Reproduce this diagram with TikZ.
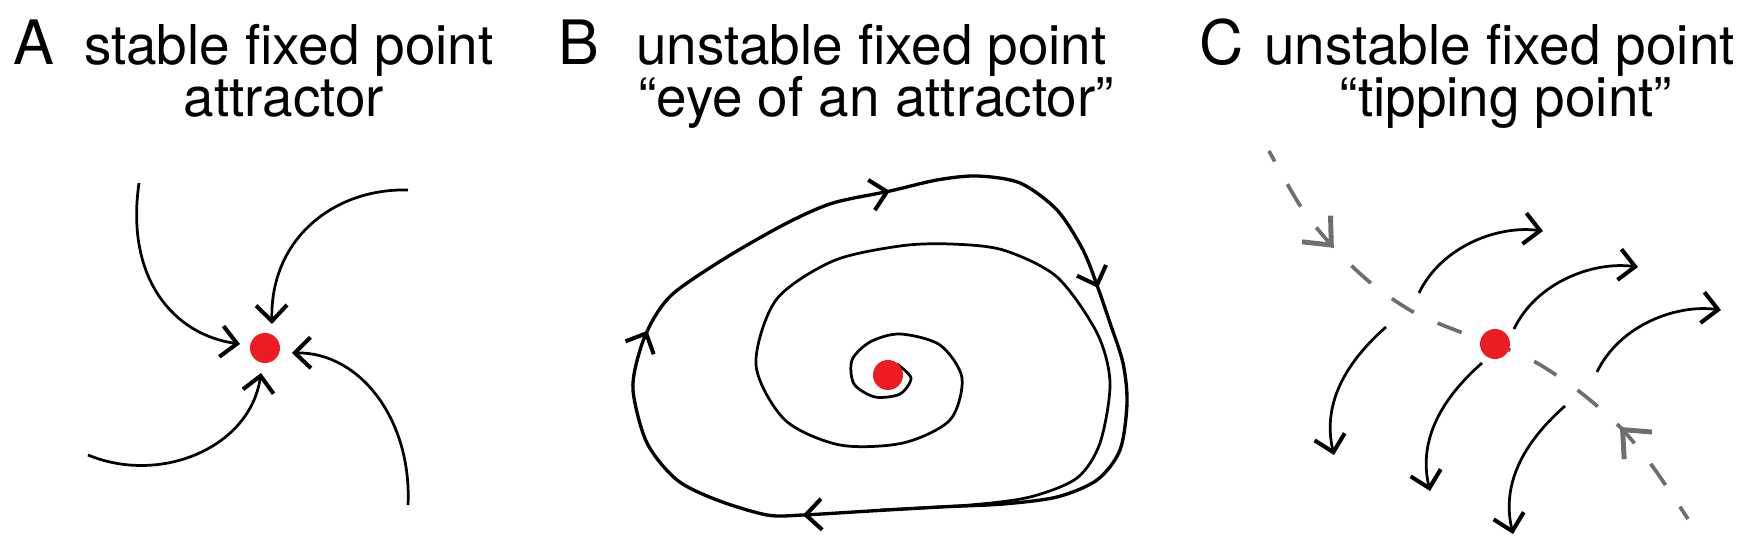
\documentclass[tikz,border=0pt]{standalone}
\usepackage{fontspec}
\setmainfont{TeX Gyre Heros}
\usetikzlibrary{arrows.meta,decorations.markings}
\definecolor{dotred}{RGB}{237,28,36}
\definecolor{sepgray}{RGB}{109,110,113}
\begin{document}
\begin{tikzpicture}[x=0.01cm,y=-0.01cm,
  title/.style={anchor=base west,inner sep=0pt,outer sep=0pt,font=\fontsize{15.6}{18}\selectfont},
  subtitle/.style={anchor=base,inner sep=0pt,outer sep=0pt,font=\fontsize{15.6}{18}\selectfont},
  panel/.style={anchor=base west,inner sep=0pt,outer sep=0pt,font=\fontsize{17.4}{20}\selectfont},
  fp/.style={circle,fill=dotred,draw=none,inner sep=0pt,minimum size=0.30cm},
  flow/.style={line width=0.78pt,black},
  cycleline/.style={line width=0.95pt,black},
  blk/.tip={Straight Barb[length=4.5pt,width=8.8pt,line width=1.15pt]},
  gry/.tip={Straight Barb[length=6.3pt,width=11pt,line width=1.4pt]},
  sepline/.style={line width=1.05pt,sepgray,dash pattern=on 7.4pt off 7.4pt,dash phase=4pt},
  uparc/.pic={\draw[flow,-{blk}] (0,0) .. controls (22,-46) and (78,-68) .. (124,-62);},
  downarc/.pic={\draw[flow,-{blk}] (0,0) .. controls (-50,44) and (-62,86) .. (-52,128);}
]
\useasboundingbox (0,0) rectangle (1763,555);

% ---------- titles ----------
\node[panel] (labA) at (13,65) {A};
\node[title] (titA1) at (84,65) {stable fixed point};
\node[subtitle] (titA2) at (284,117) {attractor};

\node[panel] (labB) at (558,65) {B};
\node[title] (titB1) at (636,65) {unstable fixed point};
\node[subtitle] (titB2) at (876,117) {“eye of an attractor”};

\node[panel] (labC) at (1199,65) {C};
\node[title] (titC1) at (1264,65) {unstable fixed point};
\node[subtitle] (titC2) at (1506,117) {“tipping point”};

% ---------- panel A ----------
\draw[flow,-{blk}] (139,183) .. controls (125,280) and (175,335) .. (240,344);
\draw[flow,-{blk}] (408,190) .. controls (335,188) and (270,238) .. (272,324);
\draw[flow,-{blk}] (88,455) .. controls (160,485) and (250,448) .. (261,373);
\draw[flow,-{blk}] (408,505) .. controls (412,420) and (360,352) .. (292,353);
\node[fp] (dotA) at (265,348) {};

% ---------- panel B ----------
\draw[flow] plot[smooth] coordinates {(897,364) (911,378) (900,394) (875,397) (854,384) (852,360) (870,342) (900,334) (940,345) (962,378) (950,420) (903,443) (840,445) (785,420) (756,365) (776,300) (833,261) (900,246) (950,244) (1003,250) (1057,277) (1097,333) (1110,383) (1100,443) (1077,478) (1030,497) (970,505) (880,510)};
\draw[cycleline,postaction={decorate},decoration={markings,
    mark=at position 0.1315 with {\arrow{blk}},
    mark=at position 0.503 with {\arrow{blk}},
    mark=at position 0.7223 with {\arrow{blk}},
    mark=at position 0.9346 with {\arrow{blk}}}]
  plot[smooth cycle] coordinates {(937,180) (977,176) (1020,183) (1057,210) (1083,250) (1098,288) (1110,323) (1123,363) (1127,403) (1120,450) (1097,480) (1057,497) (1003,504) (940,507) (870,511) (803,515) (767,515) (717,500) (677,480) (647,443) (633,390) (640,350) (654,318) (675,292) (727,257) (787,223) (833,203) (890,191)};
\node[fp] (dotB) at (888,375) {};

% ---------- panel C ----------
\draw[sepline,postaction={decorate},decoration={markings,
    mark=at position 0.204 with {\arrow[sepgray]{gry}},
    mark=at position 0.80 with {\arrowreversed[sepgray]{gry}}}]
  plot[smooth] coordinates {(1269,151) (1301,207) (1334,248) (1372,284) (1415,313) (1463,333) (1495,344) (1537,363) (1580,392) (1620,427) (1653,467) (1688,519)};
\pic at (1419,293) {uparc};
\pic at (1514,329) {uparc};
\pic at (1597,372) {uparc};
\pic at (1386,327) {downarc};
\pic at (1482,363) {downarc};
\pic at (1565,406) {downarc};
\node[fp] (dotC) at (1495,344) {};
\end{tikzpicture}
\end{document}
